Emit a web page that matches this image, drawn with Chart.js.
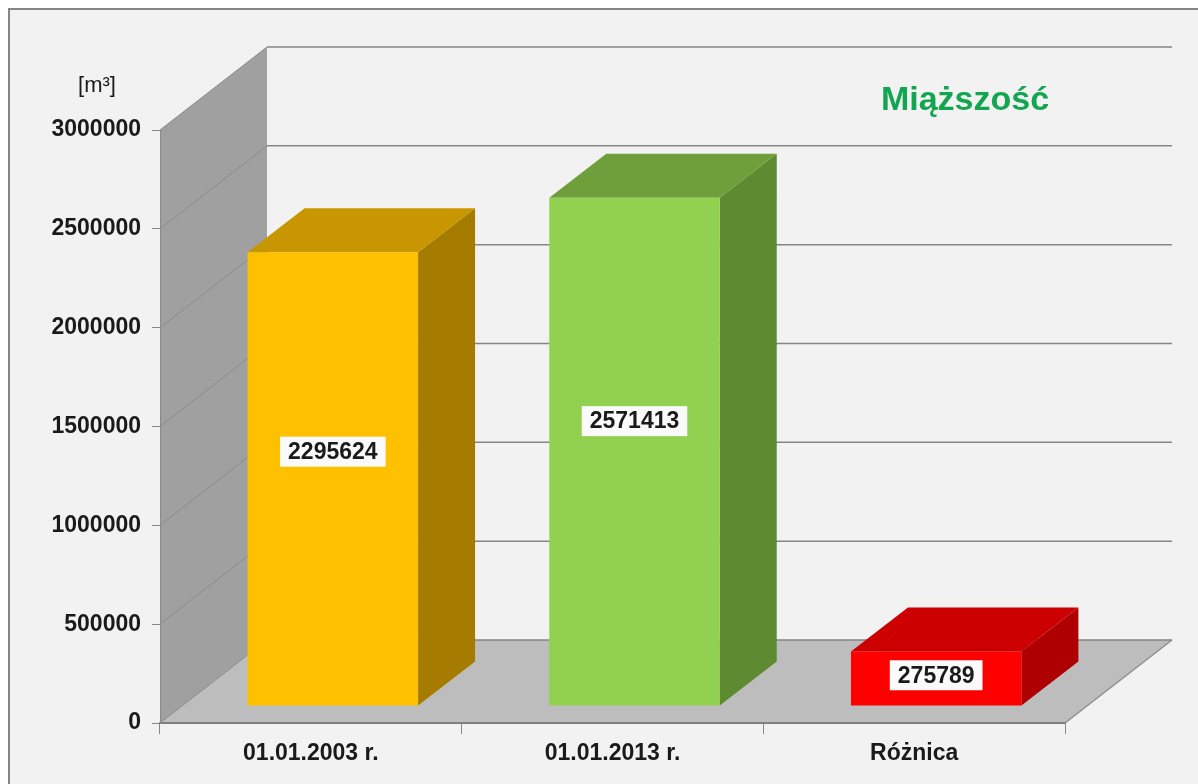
<!DOCTYPE html>
<html>
<head>
<meta charset="utf-8">
<script src="https://cdn.jsdelivr.net/npm/chart.js@4.4.1/dist/chart.umd.min.js"></script>
<style>
  html, body { margin: 0; padding: 0; background: #ffffff; }
  canvas { display: block; }
</style>
</head>
<body>
<canvas id="chart" width="1198" height="784"></canvas>
<script>
// dane wykresu
const categories = ['01.01.2003 r.', '01.01.2013 r.', 'Różnica'];
const values = [2295624, 2571413, 275789];
const frontColors = ['#FFC000', '#92D050', '#FF0000'];
const topColors = ['#C89600', '#6E9F3A', '#CC0000'];
const sideColors = ['#A67C00', '#5E8A32', '#AE0000'];
const yTicks = [0, 500000, 1000000, 1500000, 2000000, 2500000, 3000000];
const unitLabel = '[m³]';
const titleText = 'Miąższość';

const FONT = "'Liberation Sans', Arial, sans-serif";

// głębokość "3D"
const WALL_DX = 107, WALL_DY = -83;
const BAR_OFF_X = 22, BAR_OFF_Y = -17;
const BAR_DX = 57, BAR_DY = -44;

function poly(ctx, pts, fill) {
    ctx.beginPath();
    ctx.moveTo(pts[0][0], pts[0][1]);
    for (let i = 1; i < pts.length; i++) ctx.lineTo(pts[i][0], pts[i][1]);
    ctx.closePath();
    ctx.fillStyle = fill;
    ctx.fill();
}

function line(ctx, x1, y1, x2, y2, color, w) {
    ctx.beginPath();
    ctx.moveTo(x1, y1);
    ctx.lineTo(x2, y2);
    ctx.strokeStyle = color;
    ctx.lineWidth = w;
    ctx.stroke();
}

const scenePlugin = {
    id: 'scene3d',
    beforeDraw(chart) {
        const ctx = chart.ctx;
        const a = chart.chartArea;
        const y = chart.scales.y;
        ctx.save();
        // tło i ramka
        ctx.fillStyle = '#ffffff';
        ctx.fillRect(0, 0, chart.width, chart.height);
        ctx.fillStyle = '#f2f2f2';
        ctx.fillRect(9, 9, chart.width - 9, chart.height - 9);
        line(ctx, 8, 9, chart.width, 9, '#858585', 2);
        line(ctx, 9, 8, 9, chart.height, '#858585', 2);

        // ściana boczna
        poly(ctx, [[a.left, a.top], [a.left + WALL_DX, a.top + WALL_DY],
                   [a.left + WALL_DX, a.bottom + WALL_DY], [a.left, a.bottom]], '#a0a0a0');
        // podłoga
        poly(ctx, [[a.left, a.bottom], [a.right, a.bottom],
                   [a.right + WALL_DX, a.bottom + WALL_DY], [a.left + WALL_DX, a.bottom + WALL_DY]], '#bdbdbd');
        line(ctx, a.right, a.bottom, a.right + WALL_DX, a.bottom + WALL_DY, '#8f8f8f', 1.5);

        // linie siatki na ścianach
        yTicks.forEach(v => {
            const py = y.getPixelForValue(v);
            line(ctx, a.left, py, a.left + WALL_DX, py + WALL_DY, '#8a8a8a', 1);
            line(ctx, a.left + WALL_DX, py + WALL_DY, a.right + WALL_DX, py + WALL_DY, '#858585', 1.5);
        });

        // tytuł i jednostka
        ctx.fillStyle = '#12a650';
        ctx.font = 'bold 34px ' + FONT;
        ctx.textAlign = 'center';
        ctx.textBaseline = 'alphabetic';
        ctx.fillText(titleText, 965, 110);
        ctx.fillStyle = '#1a1a1a';
        ctx.font = '22px ' + FONT;
        ctx.fillText(unitLabel, 97, 92);
        ctx.restore();
    },
    beforeDatasetsDraw(chart) {
        const ctx = chart.ctx;
        const meta = chart.getDatasetMeta(0);
        ctx.save();
        meta.data.forEach((bar, i) => {
            const p = bar.getProps(['x', 'y', 'base', 'width'], true);
            const l = p.x - p.width / 2 + BAR_OFF_X;
            const r = p.x + p.width / 2 + BAR_OFF_X;
            const t = p.y + BAR_OFF_Y;
            const b = p.base + BAR_OFF_Y;
            // bok
            poly(ctx, [[r, t], [r + BAR_DX, t + BAR_DY], [r + BAR_DX, b + BAR_DY], [r, b]], sideColors[i]);
            // góra
            poly(ctx, [[l, t], [l + BAR_DX, t + BAR_DY], [r + BAR_DX, t + BAR_DY], [r, t]], topColors[i]);
            // przód
            ctx.fillStyle = frontColors[i];
            ctx.fillRect(l, t, r - l, b - t);

            // etykieta wartości
            const txt = String(values[i]);
            ctx.font = 'bold 23px ' + FONT;
            const tw = ctx.measureText(txt).width;
            const cx = (l + r) / 2;
            const cy = (t + b) / 2 - 0.06 * (b - t);
            ctx.fillStyle = '#fafafa';
            ctx.fillRect(cx - tw / 2 - 8, cy - 15, tw + 16, 30);
            ctx.fillStyle = '#1a1a1a';
            ctx.textAlign = 'center';
            ctx.textBaseline = 'middle';
            ctx.fillText(txt, cx, cy + 1);
        });
        ctx.restore();
        return false;
    }
};

new Chart(document.getElementById('chart'), {
    type: 'bar',
    data: {
        labels: categories,
        datasets: [{
            data: values,
            backgroundColor: frontColors,
            barPercentage: 0.565,
            categoryPercentage: 1.0
        }]
    },
    options: {
        responsive: false,
        devicePixelRatio: 1,
        animation: false,
        layout: { padding: { top: 130, right: 133, left: 0, bottom: 0 } },
        plugins: {
            legend: { display: false },
            tooltip: { enabled: false }
        },
        scales: {
            x: {
                afterFit: s => { s.height = 61; },
                grid: { display: true, drawOnChartArea: false, tickLength: 11, color: '#888888', offset: true },
                border: { display: true, color: '#7f7f7f', width: 2 },
                ticks: {
                    color: '#1a1a1a',
                    padding: 6,
                    font: { family: FONT, size: 23, weight: 'bold' }
                }
            },
            y: {
                min: 0,
                max: 3000000,
                afterFit: s => { s.width = 160; },
                afterBuildTicks: s => { s.ticks = yTicks.map(v => ({ value: v })); },
                grid: { display: true, drawOnChartArea: false, tickLength: 8, color: '#888888' },
                border: { display: true, color: '#8a8a8a', width: 1 },
                ticks: {
                    color: '#1a1a1a',
                    padding: 11,
                    font: { family: FONT, size: 23, weight: 'bold' },
                    callback: v => String(v)
                }
            }
        }
    },
    plugins: [scenePlugin]
});
</script>
</body>
</html>
